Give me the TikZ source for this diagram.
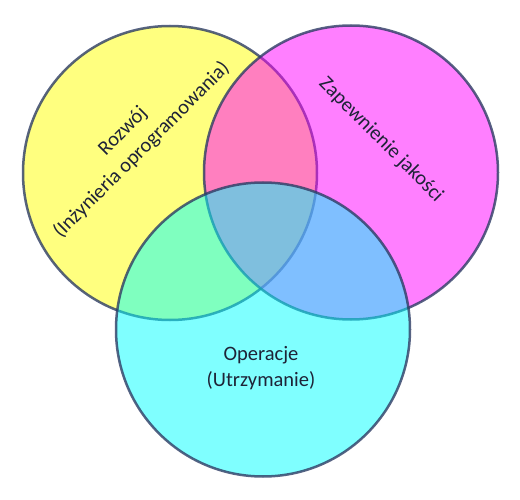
\documentclass[tikz,border=0pt]{standalone}
\usepackage{fontspec}
\setmainfont{Carlito}
\usepackage{tikz}
\newcommand{\rad}{294pt}
\definecolor{vennline}{RGB}{45,60,100}
\definecolor{venntext}{RGB}{30,35,55}
\definecolor{vyellow}{RGB}{255,255,0}
\definecolor{vmagenta}{RGB}{255,0,255}
\definecolor{vcyan}{RGB}{0,255,255}

\begin{document}
\begin{tikzpicture}[x=1pt, y=-1pt,
    venn/.style={draw=vennline, circle, minimum size=\rad, inner sep=0pt, line width=2.5pt, fill opacity=0.5, draw opacity=0.8},
    label/.style={text=venntext, align=center, font=\fontsize{20.5}{26.5}\selectfont}]
    \useasboundingbox (0,0) rectangle (520,500);

    % Circles
    \node[venn, fill=vyellow] (dev) at (170,173) {};
    \node[venn, fill=vmagenta] (qa) at (351,172.5) {};
    \node[venn, fill=vcyan] (ops) at (263,329.5) {};

    % Labels
    \node[label, rotate=45] (dev-text) at (132.5,141) {Rozwój\\(Inżynieria oprogramowania)};
    \node[label, rotate=-45] (qa-text) at (381,140) {Zapewnienie jakości};
    \node[label] (ops-text) at (261,368) {Operacje\\(Utrzymanie)};

\end{tikzpicture}
\end{document}
